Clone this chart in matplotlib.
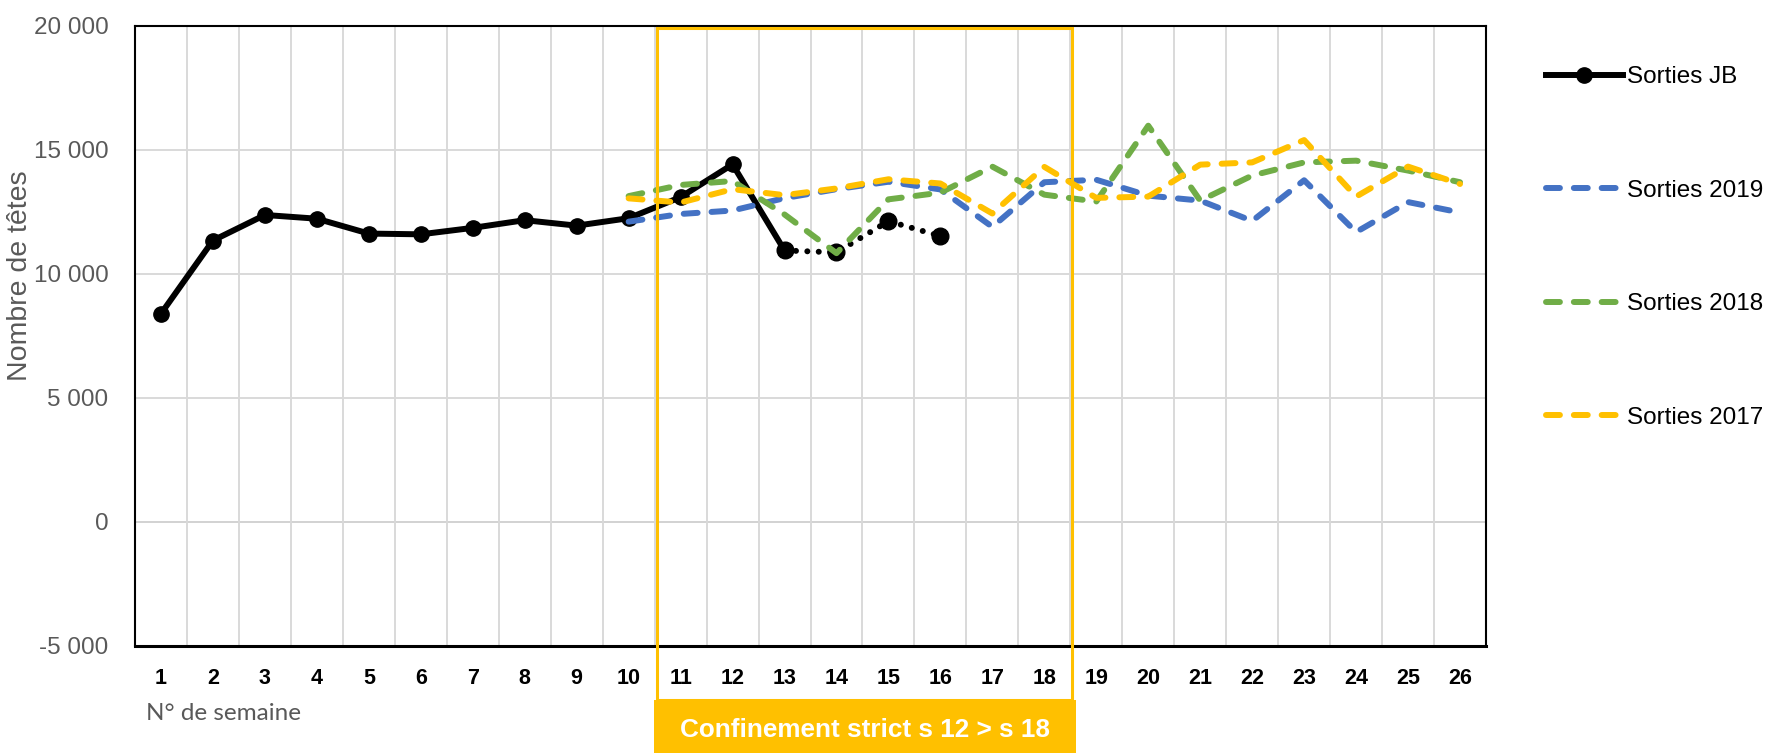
import matplotlib
matplotlib.use("Agg")
import matplotlib.pyplot as plt
import matplotlib.transforms as mtransforms
from matplotlib.patches import Rectangle
from matplotlib.lines import Line2D
from matplotlib.ticker import FuncFormatter, MultipleLocator
from matplotlib import font_manager as fm

# ---------------- data ----------------
weeks = list(range(1, 27))
week_labels = [str(w) for w in weeks]

jb_weeks = list(range(1, 14))
jb_values = [8400, 11350, 12380, 12230, 11630, 11600, 11860, 12170, 11950,
             12250, 13100, 14420, 10950]
jb_late_weeks = [13, 14, 15, 16]
jb_late_values = [10950, 10870, 12130, 11530]

hist_weeks = list(range(10, 27))
s2019 = [12110, 12420, 12560, 13060, 13420, 13720, 13410, 11900, 13700,
         13800, 13160, 12960, 12140, 13780, 11690, 12900, 12480]
s2018 = [13140, 13590, 13750, 12400, 10840, 13010, 13280, 14330, 13200,
         12920, 15980, 12960, 13970, 14500, 14570, 14170, 13700]
s2017 = [13050, 12880, 13420, 13180, 13450, 13820, 13650, 12440, 14320,
         13070, 13120, 14410, 14500, 15400, 13120, 14330, 13630]

lockdown_start, lockdown_end = 10.5, 18.5
lockdown_label = "Confinement strict s 12 > s 18"

# ---------------- fonts ----------------
available = {f.name for f in fm.fontManager.ttflist}
base_font = "Liberation Sans" if "Liberation Sans" in available else "DejaVu Sans"
plt.rcParams["font.family"] = [base_font, "DejaVu Sans"]

GRAY = "#595959"
BLUE = "#4472C4"
GREEN = "#70AD47"
YELLOW = "#FFC000"

W, H = 1767, 753
fig = plt.figure(figsize=(W / 100, H / 100), dpi=100)
ax = fig.add_axes([135 / W, 1 - 646 / H, (1486 - 135) / W, (646 - 26) / H])

ax.set_xlim(0.5, 26.5)
ax.set_ylim(-5000, 20000)

# grid
ax.yaxis.set_major_locator(MultipleLocator(5000))
ax.set_xticks(weeks)
ax.set_xticks([w + 0.5 for w in weeks[:-1]], minor=True)
ax.grid(True, which="major", axis="y", color="#D9D9D9", lw=1.4, zorder=0)
ax.grid(True, which="minor", axis="x", color="#D9D9D9", lw=1.4, zorder=0)
ax.axhline(0, color="black", lw=1.3, zorder=1)

for side in ["left", "top", "right"]:
    ax.spines[side].set_color("black")
    ax.spines[side].set_linewidth(1.5)
ax.spines["bottom"].set_color("black")
ax.spines["bottom"].set_linewidth(2.2)

ax.yaxis.set_major_formatter(FuncFormatter(lambda v, p: f"{int(v):,}".replace(",", " ")))
ax.tick_params(axis="y", which="both", length=0, pad=19, labelsize=17.5, labelcolor=GRAY)
ax.tick_params(axis="x", which="both", length=0, pad=16, labelsize=15.5)
ax.set_xticklabels(week_labels, fontweight="bold")

# series
lw = 4.3
dash = (2.33, 2.33)
ax.plot(jb_weeks, jb_values, color="black", lw=lw, marker="o", ms=11,
        solid_capstyle="round", solid_joinstyle="round", zorder=3)
ax.plot(jb_late_weeks, jb_late_values, color="black", lw=lw,
        linestyle=(0, (0.01, 1.9)), dash_capstyle="round",
        marker="o", ms=12, zorder=3)
l19, = ax.plot(hist_weeks, s2019, color=BLUE, lw=lw, dashes=dash,
               dash_capstyle="round", zorder=4)
l18, = ax.plot(hist_weeks, s2018, color=GREEN, lw=lw, dashes=dash,
               dash_capstyle="round", zorder=5)
l17, = ax.plot(hist_weeks, s2017, color=YELLOW, lw=lw, dashes=dash,
               dash_capstyle="round", zorder=6)

# lockdown box
trans = mtransforms.blended_transform_factory(ax.transData, ax.transAxes)
box_bottom = -(700 - 646) / (646 - 26)
fig_bottom = -(753 - 646) / (646 - 26)
ax.add_patch(Rectangle((lockdown_start + 0.04, box_bottom), lockdown_end - lockdown_start,
                       0.996 - box_bottom, transform=trans, fill=False,
                       edgecolor=YELLOW, lw=2.2, clip_on=False, zorder=7))
ax.add_patch(Rectangle((lockdown_start - 0.01, fig_bottom - 0.01),
                       lockdown_end - lockdown_start + 0.11, box_bottom - fig_bottom + 0.01,
                       transform=trans, facecolor=YELLOW, edgecolor="none",
                       clip_on=False, zorder=7))
ax.text((lockdown_start + lockdown_end) / 2 + 0.05, -(730 - 646) / (646 - 26),
        lockdown_label, transform=trans, ha="center", va="center",
        color="white", fontsize=18.8, fontweight="bold", zorder=8)

# axis titles
fig.text(20 / W, 1 - 276 / H, "Nombre de têtes", rotation=90, ha="center",
         va="center", color=GRAY, fontsize=20.5)
fig.text(146 / W, 1 - 714 / H, "N° de semaine", ha="left", va="center",
         color=GRAY, fontsize=17.5, family=["Lato", "DejaVu Sans"])

# legend
handles = [Line2D([], [], color="black", lw=lw, marker="o", ms=11),
           l19, l18, l17]
labels = ["Sorties JB", "Sorties 2019", "Sorties 2018", "Sorties 2017"]
fig.legend(handles, labels, loc="upper left",
           bbox_to_anchor=(1546 / W, 1 - 66 / H), frameon=False,
           fontsize=17.5, handlelength=3.15, handletextpad=0.2,
           labelspacing=3.77, borderpad=0, borderaxespad=0, numpoints=1)

fig.savefig("out.png", dpi=100)
